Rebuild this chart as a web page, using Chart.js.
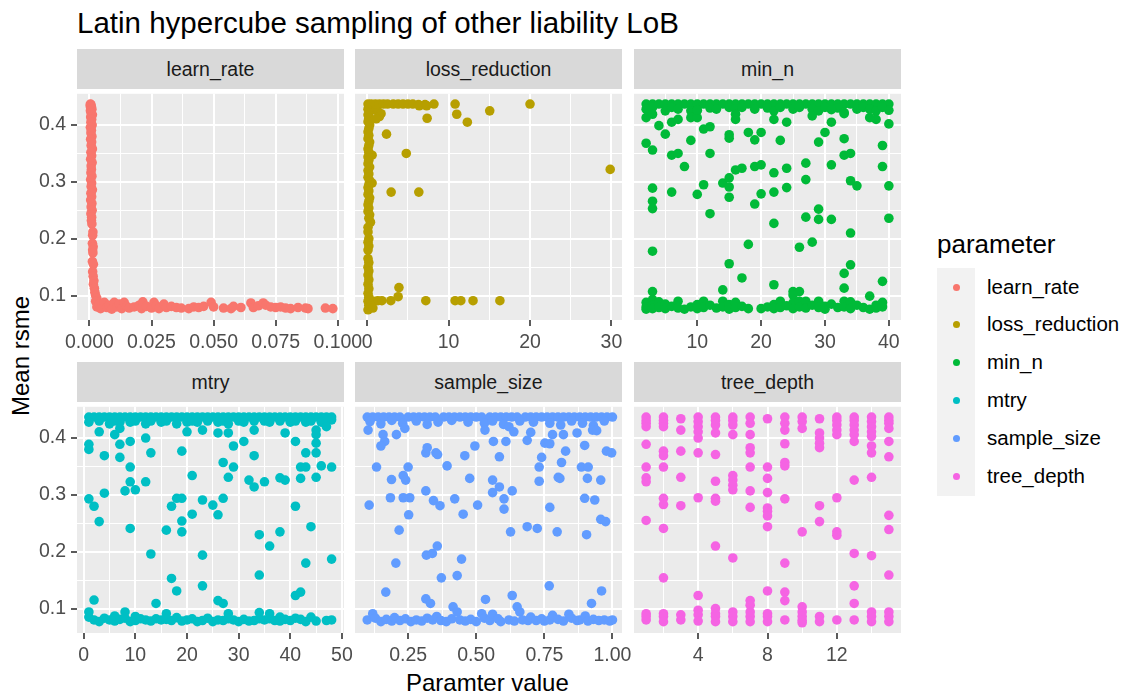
<!DOCTYPE html>
<html>
<head>
<meta charset="utf-8">
<script src="https://cdn.jsdelivr.net/npm/chart.js@4.4.1/dist/chart.umd.min.js"></script>
<style>
  body { margin: 0; background: #fff; font-family: "Liberation Sans", Arial, sans-serif; }
  #wrap { position: relative; width: 1128px; height: 694px; overflow: hidden; }
  #wrap canvas { position: absolute; }
  .txt { position: absolute; line-height: 1; white-space: nowrap; }
  .strip { position: absolute; background: #d9d9d9; color: #1a1a1a; font-size: 19.5px;
           display: flex; align-items: center; justify-content: center; }
  .key { position: absolute; width: 7px; height: 7px; border-radius: 50%; }
</style>
</head>
<body>
<div id="wrap">
  <div class="txt" style="left:77px;top:8px;font-size:29.5px;color:#000">Latin hypercube sampling of other liability LoB</div>
  <div class="txt" style="left:406px;top:671px;font-size:24px;color:#000">Paramter value</div>
  <div class="txt" style="left:-34px;top:349px;font-size:24px;color:#000;transform:rotate(-90deg);width:110px;text-align:center">Mean rsme</div>
  <div class="txt" style="left:937px;top:231px;font-size:26px;color:#000">parameter</div>
  <div style="position:absolute;left:937px;top:268px;width:38px;height:228px;background:#f2f2f2"></div>
  <div id="legend"></div>
</div>
<script>
const params = ['learn_rate', 'loss_reduction', 'min_n', 'mtry', 'sample_size', 'tree_depth'];
const colors = ['#F8766D', '#B79F00', '#00BA38', '#00BFC4', '#619CFF', '#F564E3'];

// y axis shared by all panels
const yRange = [0.057, 0.455];
const yTicks = [0.1, 0.2, 0.3, 0.4];
const yMinor = [0.15, 0.25, 0.35];
const yLabels = ['0.1', '0.2', '0.3', '0.4'];

// x axes
const lrRange = [-0.005, 0.1025];
const lrTicks = [0, 0.025, 0.05, 0.075, 0.1];
const lrMinor = [0.0125, 0.0375, 0.0625, 0.0875];
const lrLabels = ['0.000', '0.025', '0.050', '0.075', '0.100'];

const lossRange = [-1.5, 31.3];
const lossTicks = [0, 10, 20, 30];
const lossMinor = [5, 15, 25];
const lossLabels = ['0', '10', '20', '30'];

const minnRange = [0.1, 41.9];
const minnTicks = [10, 20, 30, 40];
const minnMinor = [5, 15, 25, 35];
const minnLabels = ['10', '20', '30', '40'];

const mtryRange = [-1.3, 50.4];
const mtryTicks = [0, 10, 20, 30, 40, 50];
const mtryMinor = [5, 15, 25, 35, 45];
const mtryLabels = ['0', '10', '20', '30', '40', '50'];

const ssRange = [0.055, 1.035];
const ssTicks = [0.25, 0.5, 0.75, 1.0];
const ssMinor = [0.125, 0.375, 0.625, 0.875];
const ssLabels = ['0.25', '0.50', '0.75', '1.00'];

const tdRange = [0.3, 15.7];
const tdTicks = [4, 8, 12];
const tdMinor = [2, 6, 10, 14];
const tdLabels = ['4', '8', '12'];

// [parameter value, mean rsme]
const learnRate = [
  [0.0004,0.437],[0.0006,0.436],[0.0003,0.434],[0.0008,0.432],[0.0005,0.43],[0.0010,0.428],[0.0004,0.425],
  [0.0007,0.421],[0.0012,0.418],[0.0005,0.414],[0.0009,0.41],[0.0006,0.405],[0.0011,0.4],[0.0004,0.396],
  [0.0008,0.391],[0.0006,0.386],[0.0010,0.38],[0.0005,0.375],[0.0009,0.37],[0.0007,0.364],[0.0012,0.358],
  [0.0006,0.352],[0.0009,0.346],[0.0005,0.34],[0.0011,0.334],[0.0007,0.328],[0.0008,0.322],[0.0006,0.316],
  [0.0010,0.31],[0.0005,0.304],[0.0009,0.298],[0.0007,0.292],[0.0012,0.286],[0.0006,0.28],[0.0009,0.274],
  [0.0005,0.268],[0.0010,0.262],[0.0007,0.256],[0.0011,0.25],[0.0006,0.244],[0.0009,0.238],[0.0008,0.232],
  [0.0010,0.226],[0.0014,0.212],[0.0013,0.206],[0.0012,0.192],[0.0015,0.186],[0.0013,0.18],[0.0014,0.175],
  [0.0012,0.16],[0.0016,0.155],[0.0013,0.142],[0.0015,0.134],[0.0018,0.126],[0.0016,0.12],[0.0020,0.113],
  [0.0022,0.106],[0.0025,0.1],[0.0030,0.095],
  [0.0025,0.09],[0.003,0.08],[0.004,0.085],[0.0045,0.077],[0.006,0.088],[0.007,0.079],[0.008,0.083],
  [0.009,0.076],[0.010,0.088],[0.011,0.08],[0.012,0.085],[0.013,0.077],[0.014,0.088],[0.015,0.081],
  [0.016,0.078],[0.018,0.08],[0.020,0.083],[0.021,0.077],[0.0215,0.089],[0.023,0.081],[0.025,0.078],
  [0.026,0.088],[0.027,0.082],[0.028,0.077],[0.030,0.085],[0.031,0.079],[0.033,0.081],[0.035,0.079],
  [0.037,0.078],[0.040,0.077],[0.042,0.08],[0.044,0.079],[0.046,0.081],[0.049,0.088],[0.050,0.08],
  [0.054,0.078],[0.057,0.077],[0.058,0.081],[0.061,0.079],[0.065,0.087],[0.066,0.079],[0.068,0.082],
  [0.070,0.087],[0.071,0.083],[0.073,0.08],[0.075,0.079],[0.077,0.08],[0.079,0.078],[0.081,0.077],
  [0.084,0.079],[0.087,0.078],[0.088,0.077],[0.095,0.078],[0.098,0.077]
];

const lossReduction = [
  [0.1,0.437],[0.2,0.433],[0.1,0.428],[0.3,0.423],[0.1,0.418],[0.2,0.412],[0.1,0.406],[0.3,0.4],
  [0.2,0.394],[0.1,0.388],[0.2,0.382],[0.1,0.376],[0.3,0.37],[0.2,0.364],[0.1,0.358],[0.2,0.352],
  [0.6,0.347],[0.1,0.344],[0.2,0.338],[0.1,0.332],[0.3,0.326],[0.1,0.32],[0.2,0.314],[0.1,0.308],
  [0.3,0.302],[0.6,0.298],[0.2,0.295],[0.1,0.29],[0.2,0.284],[0.1,0.278],[0.3,0.272],[0.2,0.266],
  [0.1,0.26],[0.2,0.254],[0.1,0.248],[0.3,0.242],[0.2,0.236],[0.4,0.229],[0.1,0.22],[0.1,0.212],
  [0.2,0.2],[0.1,0.194],[0.2,0.187],[0.1,0.18],[0.1,0.165],[0.2,0.158],[0.1,0.15],[0.2,0.143],
  [0.1,0.136],[0.2,0.128],[0.1,0.12],[0.2,0.112],[0.1,0.104],[0.2,0.097],[0.1,0.09],[0.2,0.083],
  [0.3,0.078],[0.1,0.075],
  [0.5,0.431],[0.9,0.428],[1.3,0.424],[1.7,0.42],[1.5,0.415],[1.1,0.411],
  [0.5,0.437],[1.0,0.437],[1.5,0.437],[2.0,0.437],[2.5,0.437],[3.2,0.437],[3.8,0.437],[4.4,0.437],
  [5.0,0.437],[5.6,0.437],[6.3,0.436],[7.1,0.436],[8.2,0.437],[6.4,0.434],[7.3,0.434],
  [10.8,0.437],[20.0,0.437],[11.0,0.419],[15.05,0.425],[7.36,0.412],[12.3,0.405],
  [2.37,0.384],[4.8,0.35],[29.85,0.322],[2.94,0.282],[6.34,0.282],
  [0.4,0.091],[0.8,0.09],[1.3,0.091],[1.8,0.091],[2.9,0.091],[3.8,0.098],[3.9,0.114],[7.2,0.091],
  [10.8,0.091],[11.5,0.091],[13.0,0.091],[16.3,0.091],[0.5,0.082],[0.7,0.078]
];

const minN = [
  [2,0.437],[3,0.437],[4,0.437],[5,0.437],[6,0.437],[7,0.437],[8,0.437],[9,0.437],[10,0.437],[11,0.437],
  [12,0.437],[13,0.437],[14,0.437],[15,0.437],[16,0.437],[17,0.437],[18,0.437],[19,0.437],[20,0.437],
  [21,0.437],[22,0.437],[23,0.437],[24,0.437],[25,0.437],[26,0.437],[27,0.437],[28,0.437],[29,0.437],
  [30,0.437],[31,0.437],[32,0.437],[33,0.437],[34,0.437],[35,0.437],[36,0.437],[37,0.437],[38,0.437],
  [39,0.437],[40,0.437],
  [2,0.428],[3,0.431],[5,0.425],[6,0.431],[7,0.428],[9,0.425],[10,0.426],[12,0.43],[13,0.428],[15,0.431],
  [16,0.428],[17,0.431],[19,0.428],[21,0.43],[22,0.425],[23,0.431],[25,0.428],[26,0.431],[28,0.428],
  [29,0.425],[30,0.431],[32,0.43],[33,0.422],[35,0.428],[36,0.431],[37,0.428],[38,0.425],[39,0.431],[40,0.426],
  [2,0.413],[3,0.419],[4,0.399],[5,0.384],[2,0.368],[3,0.356],[6,0.405],[7,0.41],[6,0.347],[7,0.35],
  [8,0.327],[9,0.373],[9,0.413],[10,0.413],[11,0.393],[12,0.397],[12,0.35],[11,0.295],[10,0.278],
  [6,0.282],[3,0.289],[3,0.266],[3,0.253],[3,0.178],[3,0.107],[12,0.244],[14,0.298],[15,0.307],
  [15,0.291],[15,0.273],[15,0.383],[15,0.377],[16,0.321],[17,0.324],[16,0.41],[18,0.387],[19,0.374],
  [20,0.387],[19,0.327],[20,0.33],[19,0.261],[20,0.279],[18,0.19],[17,0.131],[15,0.156],[14,0.11],
  [22,0.41],[22,0.316],[22,0.282],[22,0.227],[22,0.119],[23,0.373],[24,0.405],[24,0.324],[24,0.29],
  [26,0.185],[27,0.333],[27,0.304],[27,0.238],[28,0.194],[29,0.252],[29,0.234],[29,0.37],[30,0.387],
  [31,0.405],[31,0.33],[31,0.234],[33,0.42],[33,0.376],[33,0.347],[34,0.35],[34,0.302],[35,0.293],
  [34,0.21],[34,0.154],[33,0.139],[33,0.113],[37,0.099],[38,0.41],[39,0.364],[39,0.327],[39,0.125],
  [40,0.402],[40,0.293],[40,0.236],[37,0.413],[28,0.416],[31,0.427],[16,0.419],[10,0.426],
  [25,0.107],[26,0.107],[25,0.101],
  [2,0.088],[2,0.08],[2,0.076],[3,0.093],[3,0.083],[3,0.077],[4,0.089],[4,0.079],[5,0.085],[5,0.077],
  [6,0.081],[7,0.09],[7,0.078],[8,0.076],[9,0.08],[10,0.084],[10,0.077],[11,0.09],[11,0.079],[12,0.083],
  [13,0.078],[14,0.09],[14,0.08],[15,0.084],[15,0.076],[16,0.088],[16,0.079],[17,0.081],[18,0.077],
  [20,0.077],[21,0.08],[22,0.084],[22,0.077],[23,0.09],[23,0.079],[24,0.082],[25,0.087],[25,0.077],
  [26,0.09],[26,0.08],[27,0.09],[27,0.078],[28,0.083],[29,0.09],[29,0.079],[30,0.081],[30,0.076],
  [31,0.085],[32,0.079],[33,0.09],[33,0.08],[34,0.089],[34,0.077],[35,0.083],[36,0.079],[37,0.076],
  [38,0.078],[38,0.083],[39,0.088],[39,0.08]
];

const mtry = [
  [1,0.437],[2,0.437],[3,0.437],[4,0.437],[5,0.437],[6,0.437],[7,0.437],[8,0.437],[9,0.437],[10,0.437],
  [11,0.437],[12,0.437],[13,0.437],[14,0.437],[15,0.437],[16,0.437],[17,0.437],[18,0.437],[19,0.437],
  [20,0.437],[21,0.437],[22,0.437],[23,0.437],[24,0.437],[25,0.437],[26,0.437],[27,0.437],[28,0.437],
  [29,0.437],[30,0.437],[31,0.437],[32,0.437],[33,0.437],[34,0.437],[35,0.437],[36,0.437],[37,0.437],
  [38,0.437],[39,0.437],[40,0.437],[41,0.437],[42,0.437],[43,0.437],[44,0.437],[45,0.437],[46,0.437],
  [47,0.437],[48,0.437],
  [1,0.428],[3,0.43],[5,0.425],[6,0.43],[7,0.428],[9,0.428],[10,0.43],[12,0.425],[13,0.43],[15,0.428],
  [16,0.43],[18,0.425],[20,0.428],[21,0.43],[22,0.428],[23,0.414],[24,0.43],[26,0.428],[27,0.43],
  [28,0.425],[30,0.43],[31,0.428],[33,0.43],[35,0.43],[36,0.428],[38,0.43],[40,0.428],[41,0.43],
  [43,0.428],[44,0.43],[46,0.428],[47,0.43],[48,0.432],
  [1,0.389],[1,0.38],[3,0.411],[4,0.369],[6,0.406],[7,0.389],[7,0.366],[7,0.417],[9,0.394],[9,0.349],
  [9,0.323],[10,0.309],[8,0.307],[4,0.303],[1,0.293],[2,0.28],[3,0.253],[9,0.241],[12,0.323],[13,0.374],
  [12,0.4],[13,0.196],[14,0.109],[2,0.115],[16,0.238],[17,0.153],[18,0.131],[17,0.28],[18,0.294],
  [19,0.294],[19,0.254],[19,0.235],[19,0.377],[21,0.334],[21,0.266],[20,0.411],[23,0.291],[23,0.194],
  [23,0.14],[25,0.282],[26,0.265],[27,0.294],[27,0.357],[28,0.331],[29,0.349],[29,0.386],[26,0.409],
  [28,0.409],[26,0.114],[27,0.109],[31,0.394],[32,0.326],[33,0.314],[33,0.369],[33,0.414],[34,0.23],
  [34,0.159],[36,0.21],[35,0.323],[38,0.235],[38,0.33],[39,0.326],[39,0.409],[41,0.394],[41,0.28],
  [41,0.123],[42,0.129],[42,0.349],[42,0.329],[43,0.374],[43,0.349],[43,0.18],[44,0.244],[45,0.391],
  [45,0.374],[45,0.331],[45,0.414],[45,0.406],[46,0.351],[47,0.42],[48,0.349],[48,0.187],
  [1,0.094],[1,0.085],[2,0.08],[3,0.077],[4,0.083],[5,0.08],[6,0.078],[6,0.087],[7,0.081],[8,0.094],
  [8,0.083],[9,0.077],[10,0.086],[10,0.079],[11,0.082],[12,0.08],[13,0.078],[14,0.082],[15,0.08],
  [16,0.091],[16,0.081],[17,0.079],[18,0.084],[19,0.078],[20,0.08],[21,0.082],[22,0.077],[23,0.079],
  [24,0.083],[25,0.077],[26,0.08],[27,0.079],[28,0.091],[28,0.082],[29,0.08],[30,0.077],[31,0.081],
  [32,0.078],[33,0.079],[34,0.093],[34,0.082],[35,0.08],[36,0.091],[36,0.082],[37,0.079],[38,0.085],
  [38,0.078],[39,0.081],[40,0.079],[41,0.083],[42,0.081],[43,0.077],[44,0.085],[45,0.078],[47,0.079],
  [48,0.08]
];

const sampleSize = [
  [0.1,0.437],[0.12,0.437],[0.14,0.437],[0.16,0.437],[0.18,0.437],[0.2,0.437],[0.22,0.437],[0.25,0.437],
  [0.27,0.437],[0.29,0.437],[0.31,0.437],[0.33,0.437],[0.35,0.437],[0.38,0.437],[0.4,0.437],[0.42,0.437],
  [0.44,0.437],[0.46,0.437],[0.48,0.437],[0.5,0.437],[0.52,0.437],[0.55,0.437],[0.57,0.437],[0.59,0.437],
  [0.61,0.437],[0.63,0.437],[0.65,0.437],[0.68,0.437],[0.7,0.437],[0.72,0.437],[0.74,0.437],[0.76,0.437],
  [0.78,0.437],[0.8,0.437],[0.82,0.437],[0.84,0.437],[0.86,0.437],[0.88,0.437],[0.9,0.437],[0.92,0.437],
  [0.94,0.437],[0.96,0.437],[0.98,0.437],[1.0,0.437],
  [0.11,0.429],[0.15,0.425],[0.19,0.431],[0.23,0.426],[0.28,0.43],[0.32,0.424],[0.36,0.428],[0.41,0.431],
  [0.47,0.428],[0.53,0.426],[0.56,0.43],[0.6,0.424],[0.62,0.42],[0.66,0.43],[0.71,0.428],[0.77,0.426],
  [0.81,0.423],[0.85,0.43],[0.89,0.426],[0.93,0.422],[0.97,0.43],
  [0.103,0.414],[0.158,0.406],[0.164,0.394],[0.15,0.386],[0.207,0.406],[0.238,0.417],[0.134,0.349],
  [0.107,0.282],[0.189,0.327],[0.185,0.295],[0.232,0.334],[0.241,0.326],[0.25,0.349],[0.232,0.295],
  [0.256,0.295],[0.252,0.265],[0.217,0.238],[0.205,0.18],[0.168,0.129],[0.315,0.374],[0.32,0.383],
  [0.352,0.374],[0.358,0.371],[0.393,0.351],[0.315,0.307],[0.343,0.29],[0.367,0.281],[0.421,0.293],
  [0.452,0.266],[0.458,0.369],[0.476,0.329],[0.495,0.386],[0.505,0.282],[0.317,0.194],[0.339,0.197],
  [0.357,0.21],[0.372,0.154],[0.43,0.158],[0.446,0.187],[0.315,0.117],[0.332,0.109],[0.415,0.103],
  [0.532,0.414],[0.563,0.394],[0.585,0.367],[0.56,0.326],[0.56,0.304],[0.585,0.314],[0.602,0.293],
  [0.602,0.275],[0.632,0.307],[0.626,0.235],[0.632,0.123],[0.609,0.394],[0.638,0.411],[0.65,0.103],
  [0.66,0.094],[0.534,0.116],[0.687,0.396],[0.7,0.41],[0.687,0.244],[0.724,0.241],[0.731,0.349],
  [0.731,0.324],[0.74,0.366],[0.752,0.391],[0.77,0.39],[0.78,0.406],[0.77,0.278],[0.768,0.14],
  [0.797,0.235],[0.801,0.331],[0.807,0.329],[0.813,0.357],[0.828,0.377],[0.82,0.406],[0.87,0.409],
  [0.886,0.349],[0.911,0.349],[0.898,0.387],[0.908,0.329],[0.898,0.294],[0.935,0.291],[0.905,0.23],
  [0.923,0.109],[0.96,0.131],[0.957,0.326],[0.957,0.257],[0.975,0.253],[0.978,0.377],[0.997,0.374],
  [0.927,0.414],[0.942,0.413],
  [0.1,0.08],[0.12,0.091],[0.13,0.083],[0.15,0.077],[0.17,0.081],[0.19,0.078],[0.2,0.084],[0.22,0.079],
  [0.24,0.082],[0.26,0.077],[0.28,0.08],[0.3,0.078],[0.32,0.083],[0.34,0.08],[0.355,0.086],[0.37,0.079],
  [0.39,0.077],[0.41,0.082],[0.43,0.094],[0.44,0.08],[0.46,0.078],[0.48,0.081],[0.5,0.077],[0.52,0.091],
  [0.53,0.083],[0.55,0.079],[0.56,0.09],[0.58,0.082],[0.59,0.077],[0.62,0.08],[0.64,0.078],[0.67,0.08],
  [0.69,0.079],[0.7,0.085],[0.72,0.079],[0.74,0.082],[0.75,0.078],[0.77,0.08],[0.78,0.088],[0.8,0.081],
  [0.82,0.078],[0.84,0.09],[0.85,0.083],[0.87,0.079],[0.88,0.08],[0.9,0.087],[0.91,0.078],[0.93,0.081],
  [0.95,0.079],[0.97,0.08],[0.99,0.078],[1.0,0.08]
];

const treeDepth = [
  [1,0.437],[1,0.431],[1,0.426],[1,0.42],[1,0.389],[1,0.349],[1,0.33],[1,0.323],[1,0.255],[1,0.091],[1,0.086],[1,0.08],
  [2,0.437],[2,0.431],[2,0.426],[2,0.42],[2,0.377],[2,0.369],[2,0.349],[2,0.294],[2,0.283],[2,0.241],[2,0.154],
  [2,0.091],[2,0.086],[2,0.077],
  [3,0.434],[3,0.414],[3,0.377],[3,0.331],[3,0.281],[3,0.089],[3,0.08],
  [4,0.437],[4,0.429],[4,0.42],[4,0.411],[4,0.4],[4,0.374],[4,0.295],[4,0.123],[4,0.097],[4,0.089],[4,0.078],
  [5,0.437],[5,0.431],[5,0.423],[5,0.409],[5,0.371],[5,0.324],[5,0.294],[5,0.289],[5,0.21],[5,0.1],[5,0.091],
  [5,0.086],[5,0.077],
  [6,0.437],[6,0.431],[6,0.423],[6,0.406],[6,0.334],[6,0.326],[6,0.317],[6,0.309],[6,0.189],[6,0.094],[6,0.086],[6,0.077],
  [7,0.437],[7,0.426],[7,0.406],[7,0.383],[7,0.374],[7,0.349],[7,0.307],[7,0.278],[7,0.114],[7,0.106],[7,0.094],
  [7,0.086],[7,0.077],
  [8,0.434],[8,0.349],[8,0.329],[8,0.304],[8,0.277],[8,0.271],[8,0.263],[8,0.244],[8,0.131],[8,0.091],[8,0.086],[8,0.077],
  [9,0.437],[9,0.426],[9,0.414],[9,0.39],[9,0.357],[9,0.351],[9,0.293],[9,0.18],[9,0.129],[9,0.114],[9,0.08],
  [10,0.437],[10,0.429],[10,0.417],[10,0.235],[10,0.103],[10,0.094],[10,0.086],[10,0.079],[10,0.075],
  [11,0.434],[11,0.409],[11,0.4],[11,0.391],[11,0.383],[11,0.281],[11,0.253],[11,0.086],[11,0.077],
  [12,0.437],[12,0.431],[12,0.423],[12,0.414],[12,0.406],[12,0.295],[12,0.235],[12,0.229],[12,0.08],
  [13,0.437],[13,0.431],[13,0.423],[13,0.414],[13,0.406],[13,0.394],[13,0.326],[13,0.197],[13,0.14],[13,0.109],[13,0.08],
  [14,0.437],[14,0.429],[14,0.42],[14,0.411],[14,0.403],[14,0.386],[14,0.374],[14,0.331],[14,0.193],[14,0.094],
  [14,0.086],[14,0.077],
  [15,0.437],[15,0.431],[15,0.426],[15,0.417],[15,0.394],[15,0.367],[15,0.264],[15,0.239],[15,0.159],[15,0.094],
  [15,0.086],[15,0.077]
];

// layout of the facet grid
const colLeft = [77, 355, 634];
const rowTop = [89, 402];
const panelW = 267;
const panelH = 231;
const stripH = 40;
const xAxisH = 46;
const yAxisW = 40;
const pad = 28;

const panels = [
  { pts: learnRate, range: lrRange, ticks: lrTicks, minor: lrMinor, labels: lrLabels },
  { pts: lossReduction, range: lossRange, ticks: lossTicks, minor: lossMinor, labels: lossLabels },
  { pts: minN, range: minnRange, ticks: minnTicks, minor: minnMinor, labels: minnLabels },
  { pts: mtry, range: mtryRange, ticks: mtryTicks, minor: mtryMinor, labels: mtryLabels },
  { pts: sampleSize, range: ssRange, ticks: ssTicks, minor: ssMinor, labels: ssLabels },
  { pts: treeDepth, range: tdRange, ticks: tdTicks, minor: tdMinor, labels: tdLabels }
];

Chart.defaults.font.family = '"Liberation Sans", Arial, sans-serif';

function tickList(major, minor, labels) {
  const list = major.map((v, i) => ({ value: v, text: labels[i], minor: false }));
  minor.forEach((v) => list.push({ value: v, text: '', minor: true }));
  return list.sort((a, b) => a.value - b.value);
}

const panelBg = {
  id: 'panelBg',
  beforeDraw(chart) {
    const a = chart.chartArea;
    chart.ctx.save();
    chart.ctx.fillStyle = '#ebebeb';
    chart.ctx.fillRect(a.left, a.top, a.right - a.left, a.bottom - a.top);
    chart.ctx.restore();
  }
};

const gridOpts = (showTicks) => ({
  color: '#ffffff',
  lineWidth: (c) => (c.tick && c.tick.minor ? 1 : 2),
  drawTicks: showTicks,
  tickLength: 6,
  tickWidth: 1.6,
  tickColor: (c) => (c.tick && c.tick.minor ? 'rgba(0,0,0,0)' : '#333333')
});

const wrap = document.getElementById('wrap');

panels.forEach((p, i) => {
  const col = i % 3;
  const row = Math.floor(i / 3);
  const leftAxis = col === 0;

  const strip = document.createElement('div');
  strip.className = 'strip';
  strip.style.left = colLeft[col] + 'px';
  strip.style.top = (rowTop[row] - stripH) + 'px';
  strip.style.width = panelW + 'px';
  strip.style.height = stripH + 'px';
  strip.textContent = params[i];
  wrap.appendChild(strip);

  const canvas = document.createElement('canvas');
  const w = panelW + 2 * pad + (leftAxis ? yAxisW : 0);
  const h = panelH + xAxisH;
  canvas.width = w;
  canvas.height = h;
  canvas.style.left = (colLeft[col] - pad - (leftAxis ? yAxisW : 0)) + 'px';
  canvas.style.top = rowTop[row] + 'px';
  wrap.appendChild(canvas);

  new Chart(canvas, {
    type: 'scatter',
    data: {
      datasets: [{
        data: p.pts.map(([x, y]) => ({ x, y })),
        backgroundColor: colors[i],
        borderWidth: 0,
        pointRadius: 4.8,
        pointHoverRadius: 4.8
      }]
    },
    options: {
      responsive: false,
      animation: false,
      devicePixelRatio: 1,
      layout: { padding: { left: pad, right: pad, top: 0, bottom: 0 } },
      plugins: { legend: { display: false }, tooltip: { enabled: false } },
      scales: {
        x: {
          type: 'linear',
          min: p.range[0],
          max: p.range[1],
          bounds: 'data',
          border: { display: false },
          grid: gridOpts(true),
          ticks: {
            autoSkip: false,
            maxRotation: 0,
            padding: 5,
            color: '#4d4d4d',
            font: { size: 19.5 },
            callback: (v, idx, ticks) => ticks[idx].text
          },
          afterBuildTicks: (axis) => { axis.ticks = tickList(p.ticks, p.minor, p.labels); },
          afterFit: (axis) => {
            axis.height = xAxisH;
            axis.paddingLeft = 0;
            axis.paddingRight = 0;
          }
        },
        y: {
          type: 'linear',
          min: yRange[0],
          max: yRange[1],
          bounds: 'data',
          border: { display: false },
          grid: gridOpts(leftAxis),
          ticks: {
            display: leftAxis,
            autoSkip: false,
            padding: 5,
            color: '#4d4d4d',
            font: { size: 19.5 },
            callback: (v, idx, ticks) => ticks[idx].text
          },
          afterBuildTicks: (axis) => { axis.ticks = tickList(yTicks, yMinor, yLabels); },
          afterFit: (axis) => {
            axis.width = leftAxis ? yAxisW : 0;
            axis.paddingTop = 0;
            axis.paddingBottom = 0;
          }
        }
      }
    },
    plugins: [panelBg]
  });
});

// legend
const legend = document.getElementById('legend');
params.forEach((name, i) => {
  const cy = 287 + i * 37.8;
  const dot = document.createElement('div');
  dot.className = 'key';
  dot.style.left = '953px';
  dot.style.top = (cy - 3.5) + 'px';
  dot.style.background = colors[i];
  legend.appendChild(dot);
  const label = document.createElement('div');
  label.className = 'txt';
  label.style.left = '987px';
  label.style.top = (cy - 10.5) + 'px';
  label.style.fontSize = '20.5px';
  label.style.color = '#000';
  label.textContent = name;
  legend.appendChild(label);
});
</script>
</body>
</html>
